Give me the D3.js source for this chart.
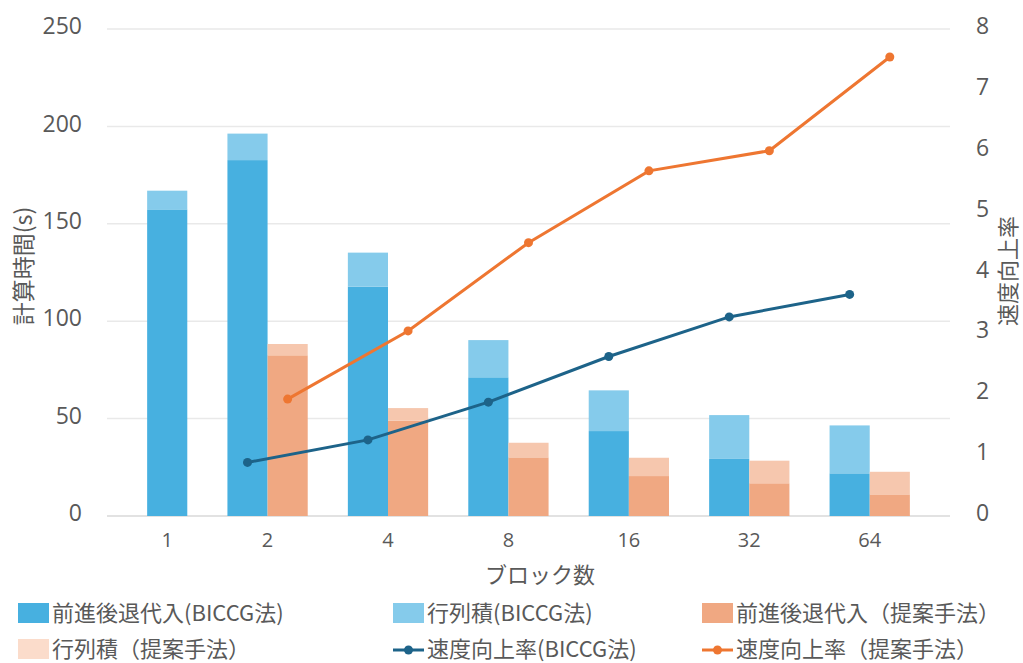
<!DOCTYPE html>
<html>
<head>
<meta charset="utf-8">
<script src="https://cdn.jsdelivr.net/npm/d3@7"></script>
<style>
  body { margin: 0; background: #fff; }
  text { font-family: "Noto Sans CJK JP", "Noto Sans", sans-serif; fill: #595959; }
  .num { font-family: "Open Sans", "Noto Sans", sans-serif; }
</style>
</head>
<body>
<div id="chart"></div>
<script>
// block counts (x categories)
var blocks = ["1", "2", "4", "8", "16", "32", "64"];
// stacked bar values, seconds
var fwdBiccg  = [157.4, 182.7, 117.7, 71.2, 43.6, 29.3, 21.9];
var matBiccg  = [9.6, 13.6, 17.5, 19.1, 20.9, 22.5, 24.6];
var fwdProp   = [null, 82.5, 48.9, 30.1, 20.5, 16.8, 11.1];
var matProp   = [null, 5.8, 6.5, 7.5, 9.4, 11.6, 11.6];
// speed-up ratio lines (right axis)
var speedBiccg = [null, 0.88, 1.25, 1.87, 2.62, 3.27, 3.64];
var speedProp  = [null, 1.92, 3.04, 4.49, 5.67, 6.0, 7.54];
var leftTicks  = [0, 50, 100, 150, 200, 250];
var rightTicks = [0, 1, 2, 3, 4, 5, 6, 7, 8];

var W = 1023, H = 663;
var svg = d3.select("#chart").append("svg")
    .attr("width", W).attr("height", H);

var x = d3.scaleBand().domain(blocks).range([107, 950]);
var barW = x.bandwidth() / 3;
var sub = d3.scaleBand().domain(["biccg", "prop"]).range([0, 2 * barW]);
var y = d3.scaleLinear().domain([0, 250]).range([516, 29]);
var y2 = d3.scaleLinear().domain([0, 8]).range([516, 29]);

function hasProp(i) { return fwdProp[i] != null; }
//left edge of the bar group in a category
function groupX(c, i) { return x(c) + (hasProp(i) ? 0 : barW); }
function groupMid(c, i) { return groupX(c, i) + (hasProp(i) ? barW : barW / 2); }

// gridlines
svg.append("g")
   .selectAll("line").data(leftTicks).enter().append("line")
   .attr("x1", 107).attr("x2", 950)
   .attr("y1", function(d) { return y(d); })
   .attr("y2", function(d) { return y(d); })
   .attr("stroke", function(d) { return d === 0 ? "#d9d9d9" : "#e9e9e9"; })
   .attr("stroke-width", 1.5);

// left axis labels
svg.append("g")
   .attr("transform", "translate(82,0)")
   .call(d3.axisLeft(y).tickValues(leftTicks).tickSize(0).tickPadding(0))
   .call(function(g) { g.select(".domain").remove(); })
   .selectAll("text")
   .attr("class", "num")
   .attr("dy", "0.2em")
   .style("font-size", "23px")
   .style("fill", "#595959");

// right axis labels
svg.append("g")
   .attr("transform", "translate(976,0)")
   .call(d3.axisRight(y2).tickValues(rightTicks).tickSize(0).tickPadding(0))
   .call(function(g) { g.select(".domain").remove(); })
   .selectAll("text")
   .attr("class", "num")
   .attr("dy", "0.2em")
   .style("font-size", "23px")
   .style("fill", "#595959");

// stacked bars, BICCG
var bars = svg.append("g");
blocks.forEach(function(c, i) {
  var bx = groupX(c, i) + sub("biccg");
  bars.append("rect")
      .attr("x", bx).attr("width", barW)
      .attr("y", y(fwdBiccg[i])).attr("height", y(0) - y(fwdBiccg[i]))
      .attr("fill", "#47b0e0");
  bars.append("rect")
      .attr("x", bx).attr("width", barW)
      .attr("y", y(fwdBiccg[i] + matBiccg[i])).attr("height", y(fwdBiccg[i]) - y(fwdBiccg[i] + matBiccg[i]))
      .attr("fill", "#85cbeb");
  if (hasProp(i)) {
    var ox = groupX(c, i) + sub("prop");
    bars.append("rect")
        .attr("x", ox).attr("width", barW)
        .attr("y", y(fwdProp[i])).attr("height", y(0) - y(fwdProp[i]))
        .attr("fill", "#f0a882");
    bars.append("rect")
        .attr("x", ox).attr("width", barW)
        .attr("y", y(fwdProp[i] + matProp[i])).attr("height", y(fwdProp[i]) - y(fwdProp[i] + matProp[i]))
        .attr("fill", "#f6c7ae");
  }
});

// speed-up lines
function drawLine(vals, key, color) {
  var pts = [];
  blocks.forEach(function(c, i) {
    if (vals[i] != null) pts.push([groupX(c, i) + sub(key) + barW / 2, y2(vals[i])]);
  });
  svg.append("path")
     .attr("d", d3.line()(pts))
     .attr("fill", "none")
     .attr("stroke", color)
     .attr("stroke-width", 3);
  svg.append("g").selectAll("circle").data(pts).enter().append("circle")
     .attr("cx", function(d) { return d[0]; })
     .attr("cy", function(d) { return d[1]; })
     .attr("r", 4.5)
     .attr("fill", color);
}
drawLine(speedBiccg, "biccg", "#1d6389");
drawLine(speedProp, "prop", "#ee7631");

// x labels
svg.append("g").selectAll("text").data(blocks).enter().append("text")
   .attr("class", "num")
   .attr("x", function(c, i) { return groupMid(c, i); })
   .attr("y", 547)
   .attr("text-anchor", "middle")
   .style("font-size", "20px")
   .text(function(c) { return c; });

// axis titles
svg.append("text")
   .attr("x", 540).attr("y", 583)
   .attr("text-anchor", "middle")
   .style("font-size", "22px")
   .text("ブロック数");
svg.append("text")
   .attr("transform", "translate(32,266) rotate(-90)")
   .attr("text-anchor", "middle")
   .style("font-size", "23px")
   .text("計算時間(s)");
svg.append("text")
   .attr("transform", "translate(1016,271) rotate(-90)")
   .attr("text-anchor", "middle")
   .style("font-size", "22px")
   .text("速度向上率");

// legend
var legendItems = [
  {label: "前進後退代入(BICCG法)", color: "#47b0e0", kind: "box", x: 18, y: 613},
  {label: "行列積(BICCG法)", color: "#85cbeb", kind: "box", x: 393, y: 613},
  {label: "前進後退代入（提案手法）", color: "#f0a882", kind: "box", x: 702, y: 613},
  {label: "行列積（提案手法）", color: "#fbdccb", kind: "box", x: 18, y: 649},
  {label: "速度向上率(BICCG法)", color: "#1d6389", kind: "line", x: 393, y: 649},
  {label: "速度向上率（提案手法）", color: "#ee7631", kind: "line", x: 702, y: 649}
];
var lg = svg.append("g").selectAll("g").data(legendItems).enter().append("g")
   .attr("transform", function(d) { return "translate(" + d.x + "," + d.y + ")"; });
lg.filter(function(d) { return d.kind === "box"; }).append("rect")
   .attr("x", 0).attr("y", -10).attr("width", 31).attr("height", 20)
   .attr("fill", function(d) { return d.color; });
lg.filter(function(d) { return d.kind === "line"; }).append("line")
   .attr("x1", 0).attr("x2", 31).attr("y1", 1).attr("y2", 1)
   .attr("stroke", function(d) { return d.color; })
   .attr("stroke-width", 3);
lg.filter(function(d) { return d.kind === "line"; }).append("circle")
   .attr("cx", 15.5).attr("cy", 1).attr("r", 4.5)
   .attr("fill", function(d) { return d.color; });
lg.append("text")
   .attr("x", 34).attr("y", 0).attr("dy", "0.35em")
   .style("font-size", "22px")
   .text(function(d) { return d.label; });
</script>
</body>
</html>
